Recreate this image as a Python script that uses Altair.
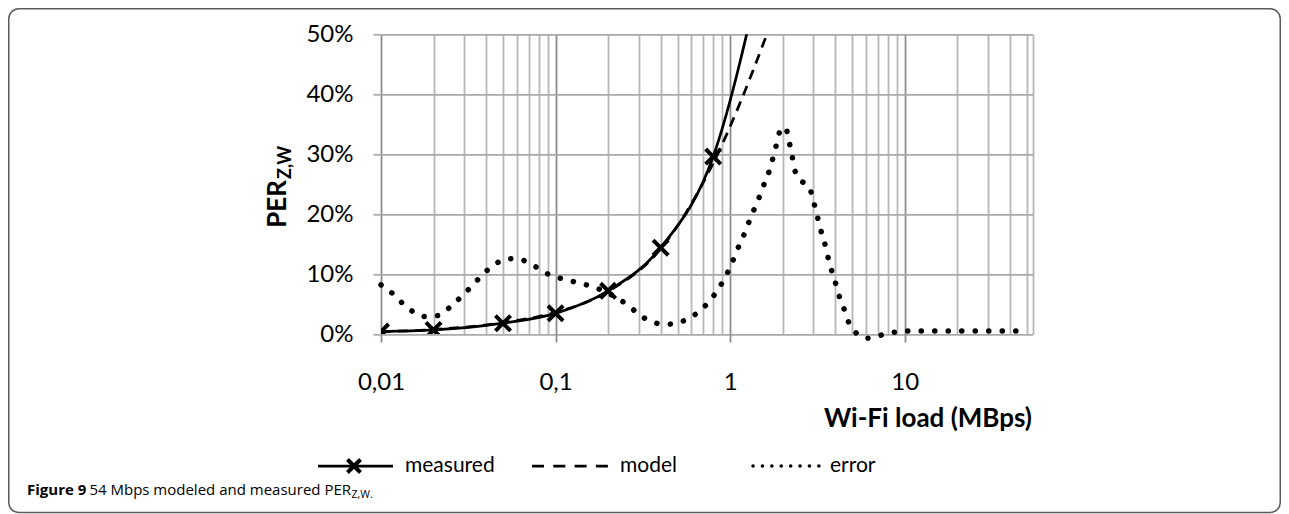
import altair as alt
import pandas as pd

# ---------------- data ----------------
# measured PER (markers) vs Wi-Fi load (MBps)
meas_load = [0.01, 0.02, 0.05, 0.1, 0.2, 0.4, 0.8, 1.6]
meas_per = [0.004, 0.0067, 0.018, 0.0345, 0.072, 0.144, 0.296, 0.64]

# model PER (dashed)
model_load = [0.01, 0.02, 0.05, 0.1, 0.2, 0.4, 0.8, 1.6, 3.2]
model_per = [0.004, 0.0075, 0.019, 0.036, 0.071, 0.142, 0.285, 0.495, 0.75]

# error curve (dotted)
err_load = [0.01, 0.0116, 0.0132, 0.0153, 0.0179, 0.0214, 0.0249, 0.0285, 0.0324,
            0.0368, 0.042, 0.0488, 0.0581, 0.0693, 0.0812, 0.0951, 0.114, 0.136,
            0.163, 0.222, 0.263, 0.302, 0.352, 0.423, 0.506, 0.596, 0.692, 0.782,
            0.869, 0.949, 1.023, 1.097, 1.183, 1.263, 1.355, 1.453, 1.552, 1.659,
            1.746, 1.828, 1.917, 2.075, 2.169, 2.258, 2.327, 2.519, 2.849, 3.0,
            3.14, 3.28, 3.46, 3.61, 3.78, 4.0, 4.2, 4.46, 4.74, 5.22, 6.07, 7.3,
            8.7, 10.4, 47]
err_pct = [8.2, 6.8, 5.2, 3.7, 2.9, 3.1, 4.5, 6.1, 7.7, 9.4, 11.0, 12.2, 12.6, 12.0,
           10.8, 9.7, 9.1, 8.5, 7.9, 6.1, 4.7, 3.2, 2.1, 1.6, 1.9, 2.8, 4.2, 5.9,
           7.8, 9.8, 11.8, 14.0, 16.1, 18.2, 20.4, 22.5, 24.7, 26.8, 29.0, 31.2,
           33.6, 34.5, 32.3, 30.0, 27.7, 25.8, 24.4, 22.2, 20.0, 17.7, 15.5, 13.2,
           11.0, 8.7, 6.5, 4.5, 2.2, 0.3, -0.7, -0.2, 0.3, 0.5, 0.5]
err_per = [v / 100 for v in err_pct]

# axis ticks
x_decades = [0.01, 0.1, 1, 10]
x_decade_labels = ["0,01", "0,1", "1", "10"]
x_minor = [0.02, 0.03, 0.04, 0.05, 0.06, 0.07, 0.08, 0.09,
           0.2, 0.3, 0.4, 0.5, 0.6, 0.7, 0.8, 0.9,
           2, 3, 4, 5, 6, 7, 8, 9,
           20, 30, 40, 50, 54]
y_ticks = [0, 0.1, 0.2, 0.3, 0.4, 0.5]

legend_labels = ["measured", "model", "error"]
caption_bold = "Figure 9"
caption_text = "54 Mbps modeled and measured PER"
caption_sub = "Z,W."
y_title_main = "PER"
y_title_sub = "Z,W"
x_title = "Wi-Fi load (MBps)"

# ---------------- styling ----------------
PLOT_W = 651.5
PLOT_H = 299.7
FONT = "Lato"
CAP_FONT = "Open Sans"
MAJOR = "#8a8a8a"
MINOR = "#b6b6b6"
HGRID = "#a9a9a9"
XPATH = "M-1,-1L1,1M-1,1L1,-1"

meas_df = pd.DataFrame({"load": meas_load, "per": meas_per})
model_df = pd.DataFrame({"load": model_load, "per": model_per})
err_df = pd.DataFrame({"load": err_load, "per": err_per})
one = pd.DataFrame({"d": [0]})

major_test = "indexof([" + ",".join(str(v) for v in x_decades) + "], datum.value) >= 0"
label_expr = " : ".join(
    f"datum.value == {v} ? '{l}'" for v, l in zip(x_decades, x_decade_labels)
) + " : ''"

x_scale = alt.Scale(type="log", domain=[0.01, 54], nice=False)
y_scale = alt.Scale(domain=[0, 0.5], nice=False, zero=False)

x_axis = alt.Axis(
    values=sorted(x_decades + x_minor),
    labelExpr=label_expr,
    labelOverlap=False,
    labelFlush=False,
    grid=True,
    gridColor={"condition": {"test": major_test, "value": MAJOR}, "value": MINOR},
    gridWidth=1.75,
    ticks=True,
    tickSize=8,
    tickWidth=1.75,
    tickColor=MAJOR,
    tickOpacity={"condition": {"test": major_test, "value": 1}, "value": 0},
    domain=False,
    labelFont=FONT,
    labelFontSize=24,
    labelColor="black",
    labelPadding=28,
    labelBaseline="top",
    title=x_title,
    titleFont=FONT,
    titleFontSize=26,
    titleFontWeight="bold",
    titleColor="black",
    titleX=PLOT_W - 1,
    titleY=92.7,
    titleAlign="right",
    titleBaseline="alphabetic",
    titleAnchor="end",
)
y_axis = alt.Axis(
    values=y_ticks,
    format=".0%",
    grid=True,
    gridColor=HGRID,
    gridWidth=1.75,
    ticks=True,
    tickSize=8,
    tickWidth=1.75,
    tickColor=HGRID,
    domain=False,
    labelFont=FONT,
    labelFontSize=24,
    labelColor="black",
    labelPadding=20,
)

X = alt.X("load:Q", scale=x_scale, axis=x_axis)
Y = alt.Y("per:Q", scale=y_scale, axis=y_axis, title="")

err_layer = alt.Chart(err_df).mark_line(
    color="black", strokeWidth=5.5, strokeDash=[0.1, 13.4], strokeCap="round",
    interpolate="monotone", clip=False,
).encode(x=X, y=Y)

model_layer = alt.Chart(model_df).mark_line(
    color="black", strokeWidth=2.75, strokeDash=[10, 7],
    interpolate="monotone", clip=True,
).encode(x=X, y=Y)

meas_layer = alt.Chart(meas_df).mark_line(
    color="black", strokeWidth=2.75, interpolate="monotone", clip=True,
).encode(x=X, y=Y)

pts_layer = alt.Chart(meas_df).mark_point(
    shape=XPATH, size=230, filled=False, stroke="black", strokeWidth=4,
    opacity=1, clip=True,
).encode(x=X, y=Y)

# ---- y-axis title with subscript ----
YT_X, YT_Y = -95, 145.7
ytitle1 = alt.Chart(one).mark_text(
    text=y_title_main, font=FONT, fontSize=26, fontWeight="bold", angle=270,
    align="right", baseline="alphabetic", color="black",
).encode(x=alt.value(YT_X), y=alt.value(YT_Y))
ytitle2 = alt.Chart(one).mark_text(
    text=y_title_sub, font=FONT, fontSize=18, fontWeight="bold", angle=270,
    align="left", baseline="alphabetic", color="black",
).encode(x=alt.value(YT_X + 5), y=alt.value(YT_Y - 1))

# ---- legend ----
LEG_Y = 431.7
leg_solid = alt.Chart(one).mark_rule(color="black", strokeWidth=2.75).encode(
    x=alt.value(-63), x2=alt.value(12), y=alt.value(LEG_Y))
leg_x = alt.Chart(one).mark_point(
    shape=XPATH, size=170, filled=False, stroke="black", strokeWidth=4, opacity=1,
).encode(x=alt.value(-27), y=alt.value(LEG_Y))
leg_dash = alt.Chart(one).mark_rule(color="black", strokeWidth=2.75, strokeDash=[12, 9.3]).encode(
    x=alt.value(151), x2=alt.value(227), y=alt.value(LEG_Y))
leg_dot = alt.Chart(one).mark_rule(
    color="black", strokeWidth=3.5, strokeDash=[0.1, 9.3], strokeCap="round",
).encode(x=alt.value(372), x2=alt.value(438), y=alt.value(LEG_Y))

def leg_text(label, xpos):
    return alt.Chart(one).mark_text(
        text=label, font=FONT, fontSize=21, align="left", baseline="middle", color="black",
    ).encode(x=alt.value(xpos), y=alt.value(LEG_Y))

leg_t1 = leg_text(legend_labels[0], 24)
leg_t2 = leg_text(legend_labels[1], 239)
leg_t3 = leg_text(legend_labels[2], 449)

# ---- caption ----
CAP_Y = 461
CAP_J = -30
cap1 = alt.Chart(one).mark_text(
    text=caption_bold, font=CAP_FONT, fontSize=15, fontWeight="bold",
    align="left", baseline="alphabetic", color="black",
).encode(x=alt.value(-354), y=alt.value(CAP_Y))
cap2 = alt.Chart(one).mark_text(
    text=caption_text, font=CAP_FONT, fontSize=15,
    align="right", baseline="alphabetic", color="black",
).encode(x=alt.value(CAP_J), y=alt.value(CAP_Y))
cap3 = alt.Chart(one).mark_text(
    text=caption_sub, font=CAP_FONT, fontSize=10.5,
    align="left", baseline="alphabetic", color="black",
).encode(x=alt.value(CAP_J + 0.5), y=alt.value(CAP_Y + 3))

# ---- figure frame ----
frame = alt.Chart(one).mark_rect(
    fill="transparent", stroke="#5a5a5a", strokeWidth=1.5, cornerRadius=10,
).encode(x=alt.value(-372.25), x2=alt.value(899.25), y=alt.value(-25.55), y2=alt.value(478.2))

chart = alt.layer(
    frame, err_layer, model_layer, meas_layer, pts_layer,
    ytitle1, ytitle2,
    leg_solid, leg_x, leg_dash, leg_dot, leg_t1, leg_t2, leg_t3,
    cap1, cap2, cap3,
).properties(
    width=PLOT_W,
    height=PLOT_H,
    autosize=alt.AutoSizeParams(type="none"),
    padding={"left": 373, "top": 26.3, "right": 248.5, "bottom": 180},
    background="white",
).configure_view(stroke="transparent")

chart.save("out.html", embed_options={"renderer": "svg", "actions": False})
